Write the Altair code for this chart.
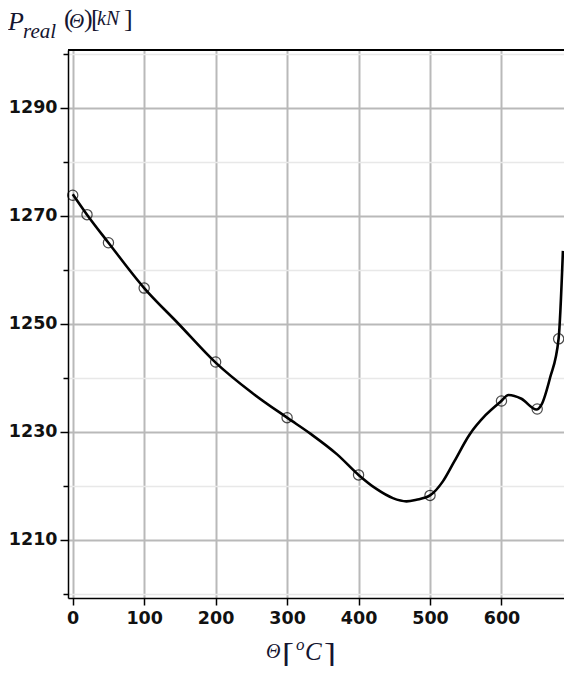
import altair as alt
import pandas as pd

# ---- data ----
curve_theta = [0, 20, 50, 100, 148, 200, 250, 300, 333, 370, 400, 425, 448, 467, 481,
               500, 518, 534, 555, 578, 599, 610, 628, 649, 656, 668, 680, 686]
curve_p = [1274.0, 1270.2, 1265.0, 1256.6, 1250.0, 1242.8, 1237.3, 1232.6, 1229.6,
           1225.8, 1222.0, 1219.4, 1217.7, 1217.1, 1217.4, 1218.2, 1220.8, 1224.5,
           1229.4, 1233.1, 1235.6, 1236.8, 1236.1, 1234.1, 1235.0, 1240.0, 1247.3, 1263.5]

point_theta = [0, 20, 50, 100, 200, 300, 400, 500, 600, 650, 680]
point_p = [1273.8, 1270.2, 1265.0, 1256.6, 1242.9, 1232.6, 1222.0, 1218.2, 1235.7, 1234.2, 1247.2]

x_ticks = list(range(0, 700, 50))
y_ticks = list(range(1200, 1310, 10))

curve_df = pd.DataFrame({"theta": curve_theta, "p": curve_p})
point_df = pd.DataFrame({"theta": point_theta, "p": point_p})
one_row = pd.DataFrame({"k": [0]})

W, H = 496, 548
XDOM = [-6.6, 687.5]
YDOM = [1199.2, 1300.7]

xscale = alt.Scale(domain=XDOM, nice=False, zero=False)
yscale = alt.Scale(domain=YDOM, nice=False, zero=False)

x_axis = alt.Axis(
    values=x_ticks, title=None, format="d",
    labelExpr="datum.value % 100 == 0 ? datum.label : ''",
    grid=True,
    gridColor={"condition": {"test": "datum.value % 100 == 0", "value": "#b9b9b9"}, "value": "#e8e8e8"},
    gridWidth={"condition": {"test": "datum.value % 100 == 0", "value": 2}, "value": 1.5},
    tickSize={"condition": {"test": "datum.value % 100 == 0", "value": 7}, "value": 5},
    tickColor="black", tickWidth=1.5,
    domainColor="black", domainWidth=1.5,
    labelFont="DejaVu Sans", labelFontSize=17.5, labelFontWeight="bold", labelColor="#111111",
    labelPadding=4, labelFlush=False, labelOverlap=False,
)
y_axis = alt.Axis(
    values=y_ticks, title=None, format="d",
    labelExpr="(datum.value - 1210) % 20 == 0 ? datum.label : ''",
    grid=True,
    gridColor={"condition": {"test": "(datum.value - 1210) % 20 == 0", "value": "#b9b9b9"}, "value": "#e8e8e8"},
    gridWidth={"condition": {"test": "(datum.value - 1210) % 20 == 0", "value": 2}, "value": 1.5},
    tickSize={"condition": {"test": "(datum.value - 1210) % 20 == 0", "value": 8}, "value": 5},
    tickColor="black", tickWidth=1.5,
    domainColor="black", domainWidth=1.5,
    labelFont="DejaVu Sans", labelFontSize=17.5, labelFontWeight="bold", labelColor="#111111",
    labelPadding=3, labelFlush=False, labelOverlap=False,
)

line = alt.Chart(curve_df).mark_line(
    color="black", strokeWidth=2.6, interpolate="monotone", clip=True
).encode(
    x=alt.X("theta:Q", scale=xscale, axis=x_axis),
    y=alt.Y("p:Q", scale=yscale, axis=y_axis),
)

points = alt.Chart(point_df).mark_point(
    shape="circle", filled=False, color="black", size=105, strokeWidth=1.2
).encode(
    x=alt.X("theta:Q", scale=xscale),
    y=alt.Y("p:Q", scale=yscale),
)

top_border = alt.Chart(one_row).mark_rule(color="black", strokeWidth=2).encode(
    x=alt.value(0), x2=alt.value(W), y=alt.value(0)
)

MATH = "#151530"
SERIF = "Liberation Serif"


def txt(s, x, y, size, italic=True):
    return alt.Chart(one_row).mark_text(
        text=s, font=SERIF, fontSize=size, fontStyle="italic" if italic else "normal",
        color=MATH, align="left", baseline="alphabetic",
    ).encode(x=alt.value(x), y=alt.value(y))


y_title = [
    txt("P", -60, -20, 26),
    txt("real", -45, -12, 21),
    txt("(", -4, -23, 26, italic=False),
    txt("Θ", 1, -22, 21),
    txt(")", 16, -23, 26, italic=False),
    txt("[", 23, -23, 26, italic=False),
    txt("kN", 29, -25, 20),
    txt("]", 56, -23, 26, italic=False),
]

x_title = [
    txt("Θ", 198, 608, 20),
    txt("[", 214, 618, 36, italic=False),
    txt("o", 228, 600, 17),
    txt("C", 237, 610, 25),
    txt("]", 256, 618, 36, italic=False),
]

chart = alt.layer(line, points, top_border, *y_title, *x_title).properties(
    width=W, height=H,
    autosize=alt.AutoSizeParams(type="none"),
    padding={"left": 60, "top": 42, "right": 0, "bottom": 68},
    background="white",
).configure_view(strokeWidth=0)

chart.save("out.html", embed_options={"renderer": "svg", "actions": False})
